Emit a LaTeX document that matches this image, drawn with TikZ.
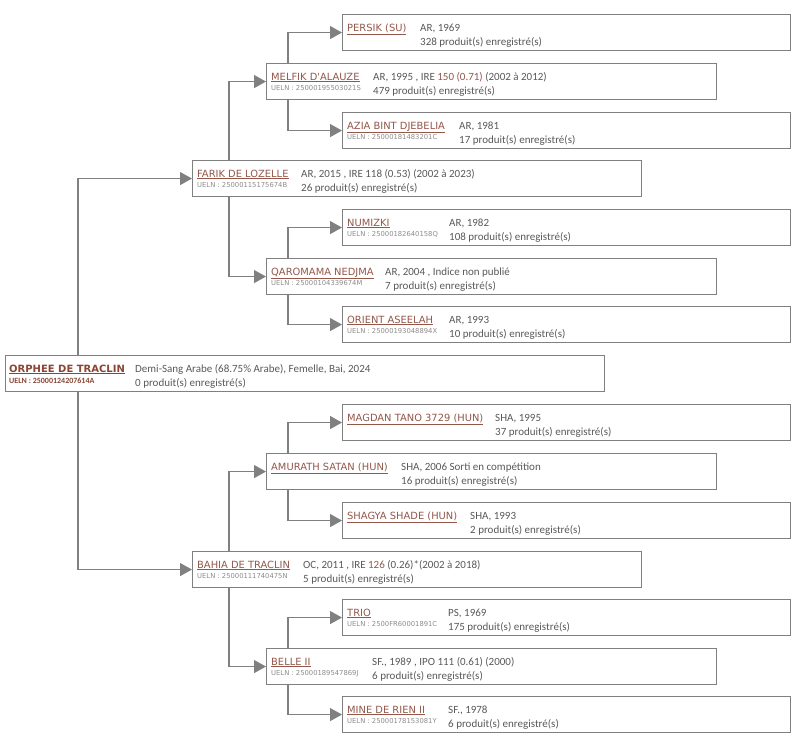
\documentclass[tikz,border=0pt]{standalone}
\usepackage{fontspec}
\setmainfont{Carlito}
\newfontfamily\nomefont{DejaVu Sans}
\usetikzlibrary{arrows.meta}

\definecolor{linea}{HTML}{808080}
\definecolor{nomecol}{HTML}{93574A}
\definecolor{radicecol}{HTML}{8A4535}
\definecolor{infocol}{HTML}{595959}
\definecolor{uelncol}{HTML}{8C8C8C}

\tikzset{
    scheda/.style={draw=linea, line width=1.1pt, fill=white, minimum height=36pt, anchor=north west, inner sep=0pt},
    nome/.style={anchor=base west, inner sep=0pt, text=nomecol, font=\nomefont\fontsize{9.9}{11}\selectfont},
    ueln/.style={anchor=base west, inner sep=0pt, text=uelncol, font=\nomefont\fontsize{6.8}{8}\selectfont},
    info/.style={anchor=base west, inner sep=0pt, text=infocol, font=\fontsize{11}{13}\selectfont},
    freccia/.style={draw=linea, line width=1.1pt, -{Triangle[length=12pt,width=13pt]}},
}

\begin{document}
\begin{tikzpicture}[x=1pt, y=-1pt]
    \useasboundingbox (0,0) rectangle (802,745);

    % Scheda di un cavallo: #1 nodo, #2 x, #3 y, #4 larghezza, #5 nome, #6 UELN, #7 scarto info, #8 riga 1, #9 riga 2
    \newcommand{\scheda}[9]{
        \node[scheda, minimum width=#4pt] (#1) at (#2,#3) {};
        \node[nome] (#1-nome) at ([xshift=5pt, yshift=-17pt]#1.north west) {\underline{#5}};
        \node[ueln] (#1-ueln) at ([xshift=5pt, yshift=-27.5pt]#1.north west) {#6};
        \node[info] (#1-riga1) at ([xshift=#7pt, yshift=-17pt]#1.north west) {#8};
        \node[info] (#1-riga2) at ([xshift=#7pt, yshift=-31pt]#1.north west) {#9};
    }

    % -- Cavallo di partenza --
    \node[scheda, minimum width=599pt] (radice) at (5,355) {};
    \node[nome, text=radicecol, font=\nomefont\bfseries\fontsize{10}{12}\selectfont] (radice-nome)
        at ([xshift=4pt, yshift=-17pt]radice.north west) {\underline{ORPHEE DE TRACLIN}};
    \node[ueln, text=radicecol, font=\bfseries\fontsize{8}{9}\selectfont] (radice-ueln)
        at ([xshift=4pt, yshift=-28pt]radice.north west) {UELN : 25000124207614A};
    \node[info] (radice-riga1) at ([xshift=130pt, yshift=-17pt]radice.north west) {Demi-Sang Arabe (68.75\% Arabe), Femelle, Bai, 2024};
    \node[info] (radice-riga2) at ([xshift=130pt, yshift=-31pt]radice.north west) {0 produit(s) enregistré(s)};

    % -- Lato paterno --
    \scheda{farik}{192}{160}{449}{FARIK DE LOZELLE}{UELN : 25000115175674B}{109}{AR, 2015 , IRE 118 (0.53) (2002 à 2023)}{26 produit(s) enregistré(s)}
    \scheda{melfik}{266}{63}{450}{MELFIK D'ALAUZE}{UELN : 25000195503021S}{107}{AR, 1995 , IRE {\color{nomecol}150 (0.71)} (2002 à 2012)}{479 produit(s) enregistré(s)}
    \scheda{persik}{342}{14}{448}{PERSIK (SU)}{}{78}{AR, 1969}{328 produit(s) enregistré(s)}
    \scheda{azia}{342}{112}{448}{AZIA BINT DJEBELIA}{UELN : 25000181483201C}{117}{AR, 1981}{17 produit(s) enregistré(s)}
    \scheda{qaromama}{266}{258}{450}{QAROMAMA NEDJMA}{UELN : 25000104339674M}{119}{AR, 2004 , Indice non publié}{7 produit(s) enregistré(s)}
    \scheda{numizki}{342}{209}{448}{NUMIZKI}{UELN : 25000182640158Q}{107}{AR, 1982}{108 produit(s) enregistré(s)}
    \scheda{orient}{342}{306}{448}{ORIENT ASEELAH}{UELN : 25000193048894X}{107}{AR, 1993}{10 produit(s) enregistré(s)}

    % -- Lato materno --
    \scheda{bahia}{192}{551}{449}{BAHIA DE TRACLIN}{UELN : 25000111740475N}{111}{OC, 2011 , IRE {\color{nomecol}126} (0.26)*(2002 à 2018)}{5 produit(s) enregistré(s)}
    \scheda{amurath}{266}{453}{450}{AMURATH SATAN (HUN)}{}{135}{SHA, 2006 Sorti en compétition}{16 produit(s) enregistré(s)}
    \scheda{magdan}{342}{404}{448}{MAGDAN TANO 3729 (HUN)}{}{153}{SHA, 1995}{37 produit(s) enregistré(s)}
    \scheda{shagya}{342}{502}{448}{SHAGYA SHADE (HUN)}{}{128}{SHA, 1993}{2 produit(s) enregistré(s)}
    \scheda{belle}{266}{648}{450}{BELLE II}{UELN : 25000189547869J}{106}{SF., 1989 , IPO 111 (0.61) (2000)}{6 produit(s) enregistré(s)}
    \scheda{trio}{342}{599}{448}{TRIO}{UELN : 2500FR60001891C}{106}{PS, 1969}{175 produit(s) enregistré(s)}
    \scheda{mine}{342}{696}{448}{MINE DE RIEN II}{UELN : 25000178153081Y}{106}{SF., 1978}{6 produit(s) enregistré(s)}

    % -- Frecce padre / madre --
    \draw[freccia] ([xshift=73pt]radice.north west) |- (farik.west);
    \draw[freccia] ([xshift=73pt]radice.south west) |- (bahia.west);

    \draw[freccia] ([xshift=37pt]farik.north west) |- (melfik.west);
    \draw[freccia] ([xshift=37pt]farik.south west) |- (qaromama.west);
    \draw[freccia] ([xshift=37pt]bahia.north west) |- (amurath.west);
    \draw[freccia] ([xshift=37pt]bahia.south west) |- (belle.west);

    \draw[freccia] ([xshift=22pt]melfik.north west) |- (persik.west);
    \draw[freccia] ([xshift=22pt]melfik.south west) |- (azia.west);
    \draw[freccia] ([xshift=22pt]qaromama.north west) |- (numizki.west);
    \draw[freccia] ([xshift=22pt]qaromama.south west) |- (orient.west);
    \draw[freccia] ([xshift=22pt]amurath.north west) |- (magdan.west);
    \draw[freccia] ([xshift=22pt]amurath.south west) |- (shagya.west);
    \draw[freccia] ([xshift=22pt]belle.north west) |- (trio.west);
    \draw[freccia] ([xshift=22pt]belle.south west) |- (mine.west);

\end{tikzpicture}
\end{document}
